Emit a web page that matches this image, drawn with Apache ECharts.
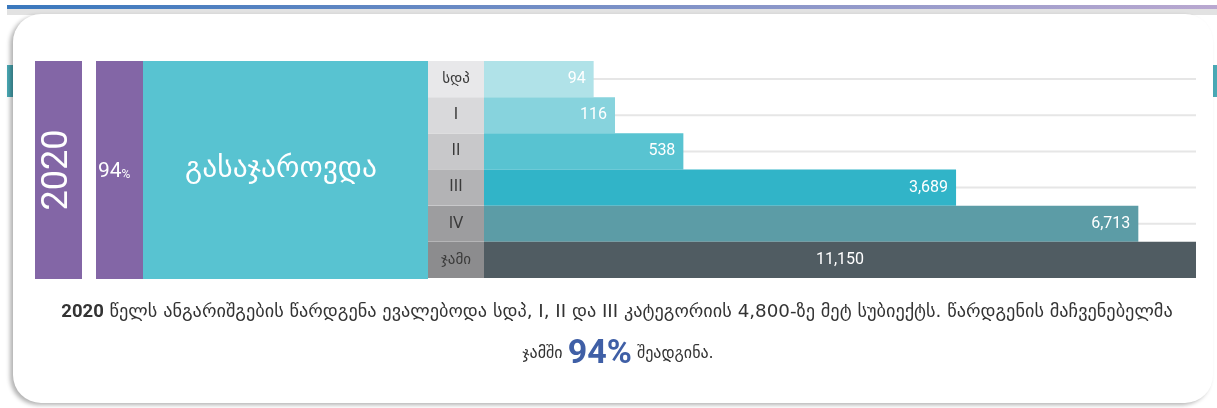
<!DOCTYPE html>
<html>
<head>
<meta charset="utf-8">
<script src="https://cdn.jsdelivr.net/npm/echarts@6/dist/echarts.min.js"></script>
<style>
body{margin:0;background:#fff;width:1217px;height:408px;overflow:hidden;position:relative}
.abs{position:absolute}
</style>
</head>
<body>
<div class="abs" style="left:7px;top:5px;width:1210px;height:4px;background:linear-gradient(to right,#3a78bd,#b9a8d0)"></div>
<div class="abs" style="left:7px;top:9px;width:1210px;height:6px;background:#e2e2e2"></div>
<div class="abs" style="left:7px;top:65px;width:8px;height:32px;background:#4aa9b5"></div>
<div class="abs" style="left:1212px;top:65px;width:5px;height:32px;background:#4aa9b5"></div>
<div class="abs" style="left:13px;top:14px;width:1200px;height:389px;border-radius:28px;background:#fff;box-shadow:-3px 2px 4px rgba(0,0,0,0.3)"></div>
<div id="main" class="abs" style="left:0;top:0;width:1217px;height:408px"></div>
<script>
// მონაცემები
var year = 2020;
var rate = 94;
var categories = ['სდპ', 'I', 'II', 'III', 'IV', 'ჯამი'];
var subjects = [94, 116, 538, 3689, 6713, 11150];
// ზოლის სიგრძე სურათზე (% სრული სიგრძიდან) - სურათზე მასშტაბი არ არის წრფივი
var barLength = [15.4, 18.4, 28.0, 66.3, 91.9, 100];
var track = [100, 100, 100, 100, 100, 100];

var barColors = ['#b0e2e8', '#87d3dd', '#58c3d1', '#31b4c8', '#5c9ca6', '#505c62'];
var cellColors = ['#e8e8ea', '#d9d9db', '#c8c8ca', '#b3b3b5', '#9d9d9f', '#8c8c8e'];

var geo = '"DejaVu Sans", sans-serif';

var myChart = echarts.init(document.getElementById('main'));

var rich = {};
cellColors.forEach(function (c, i) {
    rich['c' + i] = {
        backgroundColor: c, width: 56, height: 36, lineHeight: 36,
        align: 'center', verticalAlign: 'middle',
        color: '#3a3a3a', fontSize: 15, fontFamily: geo
    };
});

var option = {
    animation: false,
    grid: {left: 484, right: 21, top: 61, height: 217, containLabel: false},
    xAxis: {type: 'value', min: 0, max: 100, show: false},
    yAxis: [{
        type: 'category', inverse: true, data: categories,
        axisLine: {show: false}, axisTick: {show: false},
        axisLabel: {
            margin: 0, interval: 0, hideOverlap: false,
            showMinLabel: true, showMaxLabel: true,
            formatter: function (v, i) { return '{c' + i + '|' + v + '}'; },
            rich: rich
        }
    }, {
        type: 'category', inverse: true, data: categories, show: false
    }],
    series: [{
        type: 'bar', yAxisIndex: 1, data: track, barWidth: 2, silent: true,
        itemStyle: {color: '#e6e6e6'}, z: 1
    }, {
        type: 'bar', yAxisIndex: 0, barCategoryGap: '0%', z: 2,
        data: barLength.map(function (v, i) {
            return {
                value: v,
                itemStyle: {color: barColors[i]},
                label: {position: i == barLength.length - 1 ? 'inside' : 'insideRight'}
            };
        }),
        label: {
            show: true, distance: 8, color: '#fff', fontSize: 16,
            fontFamily: 'Roboto, sans-serif',
            formatter: function (p) { return subjects[p.dataIndex].toLocaleString('en-US'); }
        }
    }],
    graphic: [
        {type: 'rect', shape: {x: 35, y: 61, width: 47, height: 218}, style: {fill: '#8366a6'}},
        {type: 'text', x: 58, y: 170, rotation: Math.PI / 2,
            style: {text: String(year), fill: '#fff', fontSize: 36, fontFamily: 'Roboto, sans-serif',
                align: 'center', verticalAlign: 'middle'}},
        {type: 'rect', shape: {x: 96, y: 61, width: 47, height: 218}, style: {fill: '#8366a6'}},
        {type: 'text', x: 98, y: 172,
            style: {text: '{a|' + rate + '}{b|%}', fill: '#fff', verticalAlign: 'middle',
                rich: {a: {fontSize: 21, fill: '#fff', fontFamily: 'Roboto, sans-serif'},
                       b: {fontSize: 12, fill: '#fff', fontFamily: 'Roboto, sans-serif', padding: [6, 0, 0, 0]}}}},
        {type: 'rect', shape: {x: 143, y: 61, width: 285, height: 218}, style: {fill: '#58c3d1'}},
        {type: 'text', x: 281, y: 169,
            style: {text: 'გასაჯაროვდა', fill: '#fff', fontSize: 29.5, fontFamily: geo,
                align: 'center', verticalAlign: 'middle'}},
        {type: 'text', x: 617, y: 312,
            style: {text: '{b|' + year + '} წელს ანგარიშგების წარდგენა ევალებოდა სდპ, I, II და III კატეგორიის 4,800-ზე მეტ სუბიექტს. წარდგენის მაჩვენებელმა',
                align: 'center', verticalAlign: 'middle',
                rich: {b: {fontSize: 18.5, fontWeight: 'bold', fill: '#333', fontFamily: 'Roboto, sans-serif'}},
                fontSize: 18.3, fill: '#333', fontFamily: geo}},
        {type: 'text', x: 618, y: 354,
            style: {text: 'ჯამში {p|' + rate + '%} შეადგინა.',
                align: 'center', verticalAlign: 'middle',
                rich: {p: {fontSize: 34, fontWeight: 'bold', fill: '#3f5fa6', fontFamily: 'Roboto, sans-serif'}},
                fontSize: 16, fill: '#333', fontFamily: geo}}
    ]
};

myChart.setOption(option);
</script>
</body>
</html>
